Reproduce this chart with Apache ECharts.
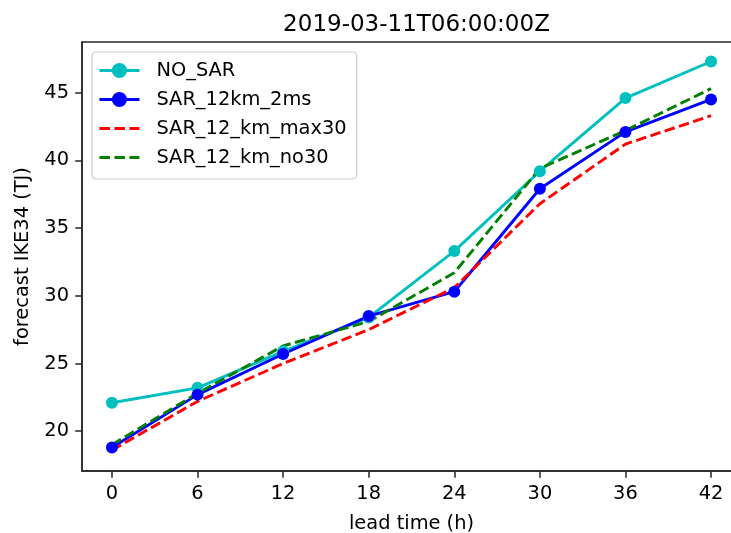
<!DOCTYPE html>
<html>
<head>
<meta charset="utf-8">
<script src="https://cdn.jsdelivr.net/npm/echarts@6/dist/echarts.min.js"></script>
<style>
  html, body { margin: 0; padding: 0; background: #fff; }
  #chart { width: 731px; height: 533px; }
</style>
</head>
<body>
<div id="chart"></div>
<script>
// Lead times (hours) and forecast integrated kinetic energy (TJ) per experiment
const leadTimes = [0, 6, 12, 18, 24, 30, 36, 42];
const noSar       = [22.1, 23.2, 25.9, 28.4, 33.3, 39.2, 44.6, 47.3];
const sar12km2ms  = [18.8, 22.7, 25.7, 28.5, 30.3, 37.9, 42.1, 44.5];
const sar12kmMax30 = [18.6, 22.2, 25.0, 27.5, 30.6, 36.8, 41.2, 43.3];
const sar12kmNo30  = [19.0, 22.8, 26.3, 28.1, 31.7, 39.4, 42.2, 45.3];
const xTicks = [0, 6, 12, 18, 24, 30, 36, 42];
const yTicks = [20, 25, 30, 35, 40, 45];

const FONT = 'DejaVu Sans';
const INK = '#000';
const FRAME = '#262626';
const LW = 2.9;

function pairs(vals) {
  return leadTimes.map((t, i) => [t, vals[i]]);
}

const chart = echarts.init(document.getElementById('chart'), null, { renderer: 'canvas' });

chart.setOption({
  animation: false,
  backgroundColor: '#fff',
  title: {
    text: '2019-03-11T06:00:00Z',
    left: 411.5,
    top: 9,
    textAlign: 'center',
    textStyle: { fontFamily: FONT, fontSize: 23, fontWeight: 'normal', color: INK }
  },
  grid: {
    left: 82, top: 42, width: 659, height: 429,
    outerBoundsMode: 'none',
    containLabel: false,
    show: true, borderColor: FRAME, borderWidth: 1.5, backgroundColor: 'transparent'
  },
  legend: {
    orient: 'vertical',
    left: 92, top: 52,
    padding: [9, 10, 12, 6],
    itemGap: 10,
    itemWidth: 40, itemHeight: 19,
    backgroundColor: 'rgba(255,255,255,0.8)',
    borderColor: '#cccccc', borderWidth: 1.2, borderRadius: 4,
    lineStyle: { width: LW },
    textStyle: { fontFamily: FONT, fontSize: 19.4, color: INK, padding: [0, 0, 0, 12] },
    data: [
      { name: 'NO_SAR' },
      { name: 'SAR_12km_2ms' },
      { name: 'SAR_12_km_max30', itemStyle: { opacity: 0 } },
      { name: 'SAR_12_km_no30', itemStyle: { opacity: 0 } }
    ]
  },
  xAxis: {
    type: 'value',
    min: -2.1, max: 44.1,
    name: 'lead time (h)',
    nameLocation: 'middle',
    nameGap: 43,
    nameTextStyle: { fontFamily: FONT, fontSize: 19.4, color: INK },
    splitLine: { show: false },
    axisLine: { show: true, onZero: false, lineStyle: { color: FRAME, width: 1.5 } },
    axisTick: { show: true, customValues: xTicks, length: 6.8, inside: false, lineStyle: { color: FRAME, width: 1.5 } },
    axisLabel: { customValues: xTicks, margin: 13, fontFamily: FONT, fontSize: 19.4, color: INK }
  },
  yAxis: {
    type: 'value',
    min: 17.06, max: 48.74,
    name: 'forecast IKE34 (TJ)',
    nameLocation: 'middle',
    nameGap: 50,
    nameTextStyle: { fontFamily: FONT, fontSize: 19.4, color: INK },
    splitLine: { show: false },
    axisLine: { show: true, onZero: false, lineStyle: { color: FRAME, width: 1.5 } },
    axisTick: { show: true, customValues: yTicks, length: 6.8, inside: false, lineStyle: { color: FRAME, width: 1.5 } },
    axisLabel: { customValues: yTicks, margin: 13, fontFamily: FONT, fontSize: 19.4, color: INK }
  },
  series: [
    {
      name: 'NO_SAR', type: 'line', data: pairs(noSar),
      symbol: 'circle', symbolSize: 12,
      lineStyle: { color: '#00bfbf', width: LW },
      itemStyle: { color: '#00bfbf' }
    },
    {
      name: 'SAR_12km_2ms', type: 'line', data: pairs(sar12km2ms),
      symbol: 'circle', symbolSize: 12,
      lineStyle: { color: '#0000ff', width: LW },
      itemStyle: { color: '#0000ff' }
    },
    {
      name: 'SAR_12_km_max30', type: 'line', data: pairs(sar12kmMax30),
      symbol: 'none',
      lineStyle: { color: '#ff0000', width: LW, type: [10.5, 4.5] },
      itemStyle: { color: '#ff0000' }
    },
    {
      name: 'SAR_12_km_no30', type: 'line', data: pairs(sar12kmNo30),
      symbol: 'none',
      lineStyle: { color: '#008000', width: LW, type: [10.5, 4.5] },
      itemStyle: { color: '#008000' }
    }
  ]
});
</script>
</body>
</html>
